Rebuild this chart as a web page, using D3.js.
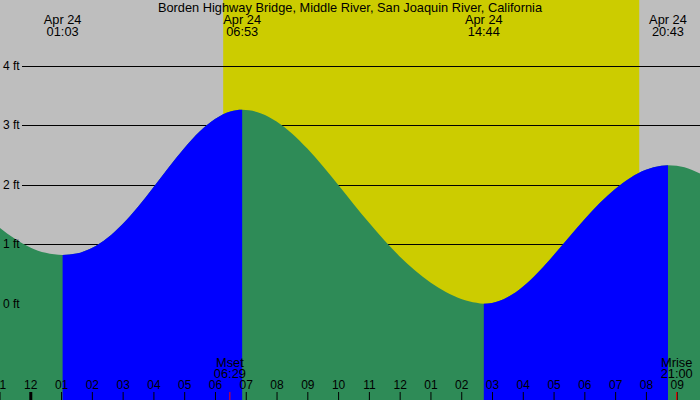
<!DOCTYPE html>
<html>
<head>
<meta charset="utf-8">
<script src="https://cdn.jsdelivr.net/npm/d3@7"></script>
<style>
  html, body { margin: 0; padding: 0; background: #fff; }
  svg { display: block; }
  text { font-family: "Liberation Sans", Arial, Helvetica, sans-serif; font-size: 12.8px; fill: #000; }
  .small { font-size: 12px; }
</style>
</head>
<body>
<svg id="chart" width="700" height="400"></svg>
<script>
// ---------- data ----------
const title = "Borden Highway Bridge, Middle River, San Joaquin River, California";
const dateLabel = "Apr 24";
// tide extremes (local time)
const extremeTimes = ["01:03", "06:53", "14:44", "20:43"];
const extremeFt = [0.82, 3.26, 0.00, 2.33];
// tide curve, hours after Apr 24 00:00 and water level in ft
const tideHours = [-2.0, -1.5, -1.0, -0.5, 0, 0.5, 1.05,
                   1.5, 2.0, 2.5, 3.0, 3.5, 4.0, 4.5, 5.0, 5.5, 6.0, 6.5, 6.883,
                   7.5, 8.0, 8.5, 9.0, 9.5, 10.0, 10.5, 11.0, 11.5, 12.0, 12.5, 13.0, 13.5, 14.0, 14.5, 14.733,
                   15.0, 15.5, 16.0, 16.5, 17.0, 17.5, 18.0, 18.5, 19.0, 19.5, 20.0, 20.5, 20.717,
                   21.0, 21.5, 22.0, 22.5];
const tideFt    = [1.73, 1.495, 1.279, 1.092, 0.948, 0.856, 0.82,
                   0.844, 0.938, 1.106, 1.342, 1.633, 1.960, 2.297, 2.616, 2.895, 3.104, 3.230, 3.26,
                   3.199, 3.064, 2.863, 2.608, 2.316, 2.0, 1.679, 1.365, 1.067, 0.796, 0.560, 0.357, 0.199, 0.082, 0.016, 0.0,
                   0.013, 0.109, 0.287, 0.530, 0.815, 1.119, 1.418, 1.694, 1.930, 2.120, 2.251, 2.320, 2.33,
                   2.32, 2.25, 2.12, 1.95];
// sun and moon
const sunrise = "06:16", sunset = "19:47";
const moonEvents = ["Mset", "Mrise"];
const moonTimes = ["06:29", "21:00"];
// axes
const hourTicks = d3.range(-1, 22);
const ftTicks = [0, 1, 2, 3, 4];
const viewStart = -0.984, viewEnd = 21.757;

// ---------- helpers ----------
const toH = s => { const [h, m] = s.split(":").map(Number); return h + m / 60; };
const W = 700, H = 400;
const svg = d3.select("#chart");

const x = d3.scaleLinear().domain([viewStart, viewEnd]).range([0, W]);
const y = d3.scaleLinear().domain([0, 4]).range([303.8, 65.8]);

// background: night grey, daylight yellow
svg.append("rect").attr("x", 0).attr("y", 0).attr("width", W).attr("height", H).attr("fill", "#bebebe");
svg.append("rect")
  .attr("x", x(toH(sunrise))).attr("y", 0)
  .attr("width", x(toH(sunset)) - x(toH(sunrise))).attr("height", H)
  .attr("fill", "#cccc00");

// grid lines (under the water)
svg.append("g").selectAll("line").data(ftTicks).join("line")
  .attr("x1", 22).attr("x2", W)
  .attr("y1", d => Math.round(y(d)) + 0.5).attr("y2", d => Math.round(y(d)) + 0.5)
  .attr("stroke", "#000").attr("stroke-width", 1);

// tide area
const pts = tideHours.map((t, i) => [t, tideFt[i]]);
const area = d3.area()
  .x(d => x(d[0])).y0(H).y1(d => y(d[1]))
  .curve(d3.curveMonotoneX);

svg.append("clipPath").attr("id", "water")
  .append("path").attr("d", area(pts));

svg.append("path").attr("d", area(pts)).attr("fill", "#2e8b57");

// rising segments in blue
const exH = extremeTimes.map(toH);
const rising = [];
for (let i = 0; i < exH.length - 1; i++) {
  if (extremeFt[i + 1] > extremeFt[i]) rising.push([exH[i], exH[i + 1]]);
}
svg.append("g").attr("clip-path", "url(#water)")
  .selectAll("rect").data(rising).join("rect")
  .attr("x", d => x(d[0])).attr("width", d => x(d[1]) - x(d[0]))
  .attr("y", 0).attr("height", H)
  .attr("fill", "#0000ff");

// y labels
svg.append("g").selectAll("text").data(ftTicks).join("text")
  .attr("class", "small")
  .attr("x", 3).attr("y", d => y(d) + 4)
  .text(d => d + " ft");

// title
svg.append("text").attr("x", 350).attr("y", 12).attr("text-anchor", "middle").text(title);

// extreme labels
const exG = svg.append("g").selectAll("g").data(extremeTimes).join("g")
  .attr("transform", d => `translate(${x(toH(d))},0)`);
exG.append("text").attr("y", 23.5).attr("text-anchor", "middle").text(dateLabel);
exG.append("text").attr("y", 36).attr("text-anchor", "middle").text(d => d);

// hour axis
const fmtHour = t => { const h = ((t % 24) + 24) % 24; const h12 = h % 12 || 12; return String(h12).padStart(2, "0"); };
const axis = d3.axisTop(x).tickValues(hourTicks).tickFormat(fmtHour).tickSize(8).tickPadding(3);
const ag = svg.append("g").attr("transform", `translate(0,${H})`).call(axis);
ag.select(".domain").remove();
ag.selectAll(".tick line").attr("stroke", "#000")
  .attr("stroke-width", d => (((d % 24) + 24) % 24 === 0 ? 3 : 1));
ag.selectAll(".tick text").attr("font-family", null).attr("font-size", null)
  .attr("class", "small").attr("fill", "#000");

// moon events
const mg = svg.append("g").selectAll("g").data(moonTimes).join("g")
  .attr("transform", d => `translate(${x(toH(d))},0)`);
mg.append("line").attr("x1", 0).attr("x2", 0).attr("y1", 392).attr("y2", H)
  .attr("stroke", "#ff0000").attr("stroke-width", 1);
mg.append("text").attr("y", 366.5).attr("text-anchor", "middle").text((d, i) => moonEvents[i]);
mg.append("text").attr("y", 378).attr("text-anchor", "middle").text(d => d);
</script>
</body>
</html>
